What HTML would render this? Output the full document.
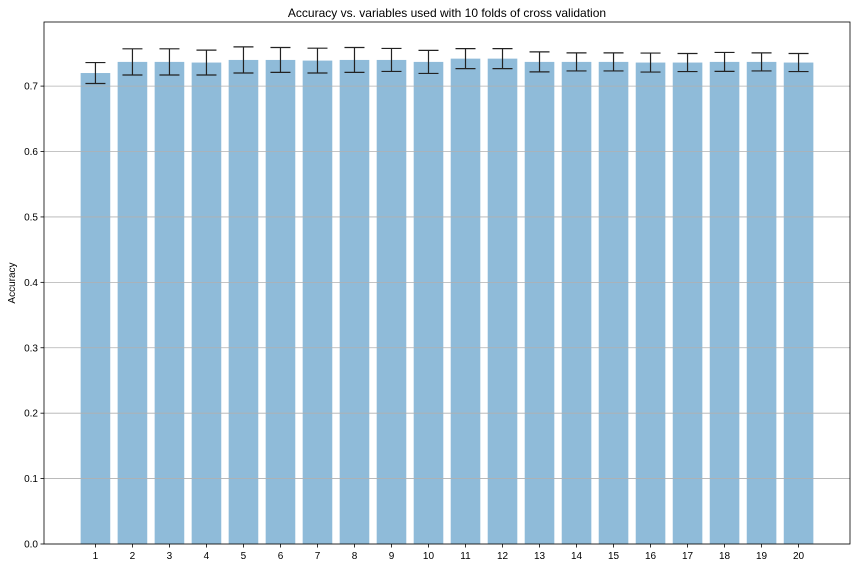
<!DOCTYPE html>
<html><head><meta charset="utf-8"><style>
body{margin:0;background:#fff;}
svg{display:block;font-family:"Liberation Sans","DejaVu Sans",sans-serif;}
</style></head><body>
<svg id="chart" width="856" height="568"></svg>
<script>
const categories=[1,2,3,4,5,6,7,8,9,10,11,12,13,14,15,16,17,18,19,20];
const accuracy=[0.720,0.737,0.737,0.736,0.740,0.740,0.739,0.740,0.740,0.737,0.742,0.742,0.737,0.737,0.737,0.736,0.736,0.737,0.737,0.736];
const errors=[0.016,0.020,0.020,0.019,0.020,0.019,0.019,0.019,0.0176,0.0176,0.0153,0.0153,0.0153,0.0138,0.0138,0.0145,0.0138,0.0145,0.0138,0.0138];
const yTicks=[0,0.1,0.2,0.3,0.4,0.5,0.6,0.7];
const L=44,R=850,T=22,B=544,yMax=0.798,xMin=-0.39,xMax=21.39;
const svg=document.getElementById('chart');const NS='http://www.w3.org/2000/svg';
function y(v){return B-(v/yMax)*(B-T);}
function x(v){return L+(v-xMin)/(xMax-xMin)*(R-L);}
function mk(t,a,p){const e=document.createElementNS(NS,t);for(const k in a)e.setAttribute(k,a[k]);(p||svg).appendChild(e);return e;}
const title=mk('text',{x:(L+R)/2,y:17,'text-anchor':'middle','font-size':12,fill:'#000'});title.textContent='Accuracy vs. variables used with 10 folds of cross validation';


const yl=mk('text',{x:0,y:0,transform:`translate(15,${(T+B)/2}) rotate(-90)`,'text-anchor':'middle','font-size':10,fill:'#000'});yl.textContent='Accuracy';


const bw=0.8*(x(1)-x(0));
categories.forEach((c,i)=>{
  const cx=x(c),v=accuracy[i];
  const b=mk('rect',{x:cx-bw/2,y:y(v),width:bw,height:B-y(v),fill:'#8fbbd9'});
  
  
});
yTicks.forEach(v=>{
  const g=mk('line',{x1:L,x2:R,y1:y(v),y2:y(v),stroke:'#b0b0b0','stroke-width':0.8});
  
  
  mk('line',{x1:L-3.5,x2:L,y1:y(v),y2:y(v),stroke:'#000','stroke-width':0.8});
  const t=mk('text',{x:L-6,y:y(v)+3.5,'text-anchor':'end','font-size':10,fill:'#000'});t.textContent=v.toFixed(1);
  
  
});
categories.forEach((c,i)=>{
  const cx=x(c),v=accuracy[i],e=errors[i];
  const eg=mk('g',{stroke:'#222','stroke-width':1.2});
  
  
  mk('line',{x1:cx,x2:cx,y1:y(v-e),y2:y(v+e)},eg);
  mk('line',{x1:cx-10,x2:cx+10,y1:y(v-e),y2:y(v-e)},eg);
  mk('line',{x1:cx-10,x2:cx+10,y1:y(v+e),y2:y(v+e)},eg);
  mk('line',{x1:cx,x2:cx,y1:B,y2:B+3.5,stroke:'#000','stroke-width':0.8});
  const t=mk('text',{x:cx,y:B+15,'text-anchor':'middle','font-size':10,fill:'#000'});t.textContent=c;
  
  
});
const fr=mk('rect',{x:L,y:T,width:R-L,height:B-T,fill:'none',stroke:'#000','stroke-width':0.8});


</script>
</body></html>
